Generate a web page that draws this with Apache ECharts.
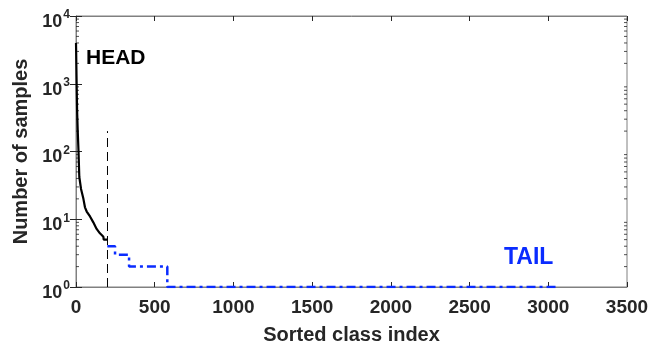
<!DOCTYPE html>
<html><head><meta charset="utf-8">
<script src="https://cdn.jsdelivr.net/npm/echarts@6/dist/echarts.min.js"></script>
<style>html,body{margin:0;padding:0;background:#fff}#c{width:661px;height:350px}</style>
</head><body><div id="c"></div>
<script>
// Head (sorted class index, number of samples)
const headX = [0, 1, 2, 4, 7, 11, 16, 21, 32, 47, 57, 68, 89, 110, 131, 152, 174, 176, 199];
const headY = [4000, 3000, 2000, 1000, 400, 200, 100, 42, 28, 20, 15, 13, 11, 9, 7.2, 6.2, 5.5, 5, 5];
// Tail (step curve)
const tailX = [199, 248, 248, 337, 337, 580, 580, 3050];
const tailY = [4, 4, 3, 3, 2, 2, 1, 1];
// Head/tail split marker
const splitX = [200, 200];
const splitY = [1, 200];
// Axis ticks
const xTicks = [0, 500, 1000, 1500, 2000, 2500, 3000, 3500];
const yDecades = [1, 10, 100, 1000, 10000];
const yMinor = [];
for (let d = 1; d < 10000; d *= 10) for (let k = 2; k <= 9; k++) yMinor.push(d * k);

const FONT = 'Liberation Sans';
const chart = echarts.init(document.getElementById('c'), null, {renderer: 'canvas'});
const supLabel = v => '{b|10}{s|' + Math.round(Math.log10(v)) + '}';
const yLabelRich = {
  b: {fontSize: 18, fontWeight: 'bold', color: '#262626', fontFamily: FONT, padding: [12, 0, 0, 0]},
  s: {fontSize: 12, fontWeight: 'bold', color: '#262626', fontFamily: FONT, padding: [0, 0, 2, 1]}
};
chart.setOption({
  animation: false,
  grid: {left: 76, right: 34, top: 16, bottom: 61, show: true, borderColor: '#808080', borderWidth: 1},
  xAxis: [{
    type: 'value', min: 0, max: 3500, interval: 500,
    axisLine: {show: true, lineStyle: {color: '#808080'}},
    axisTick: {show: true, inside: true, length: 5, lineStyle: {color: '#262626'}},
    axisLabel: {fontSize: 19, fontWeight: 'bold', color: '#262626', fontFamily: FONT, margin: 11,
                formatter: v => String(v)},
    splitLine: {show: false},
    name: 'Sorted class index', nameLocation: 'middle', nameGap: 38,
    nameTextStyle: {fontSize: 20, fontWeight: 'bold', color: '#262626', fontFamily: FONT}
  }, {
    type: 'value', position: 'top', min: 0, max: 3500, interval: 500,
    axisLine: {show: true, lineStyle: {color: '#808080'}},
    axisTick: {show: true, inside: true, length: 5, lineStyle: {color: '#262626'}},
    axisLabel: {show: false}, splitLine: {show: false}
  }],
  yAxis: [{
    type: 'log', logBase: 10, min: 1, max: 10000,
    axisLine: {show: true, lineStyle: {color: '#808080'}},
    axisTick: {show: true, inside: true, length: 6, lineStyle: {color: '#262626'}},
    axisLabel: {formatter: supLabel, rich: yLabelRich, margin: 6},
    splitLine: {show: false},
    name: 'Number of samples', nameLocation: 'middle', nameGap: 40,
    nameTextStyle: {fontSize: 20, fontWeight: 'bold', color: '#262626', fontFamily: FONT}
  }, {
    type: 'log', logBase: 10, min: 1, max: 10000, position: 'right',
    axisLine: {show: true, lineStyle: {color: '#808080'}},
    axisTick: {show: true, inside: true, length: 6, lineStyle: {color: '#262626'}},
    axisLabel: {show: false}, splitLine: {show: false}
  }],
  series: [
    {type: 'line', name: 'head', data: headX.map((x, i) => [x, headY[i]]), showSymbol: false,
     lineStyle: {color: '#000', width: 2.2}, z: 3},
    {type: 'line', name: 'tail', data: tailX.map((x, i) => [x, tailY[i]]), showSymbol: false,
     lineStyle: {color: '#0a2cff', width: 2.5, type: [9, 4, 3, 4]}, z: 3},
    {type: 'line', name: 'split', data: splitX.map((x, i) => [x, splitY[i]]), showSymbol: false,
     lineStyle: {color: '#000', width: 1, type: [9, 5]}, z: 2},
    {type: 'scatter', name: 'minorL', data: yMinor.map(v => [0, v]), symbol: 'rect', symbolSize: [3, 1],
     symbolOffset: [1.5, 0], itemStyle: {color: '#262626'}, clip: false, silent: true},
    {type: 'scatter', name: 'minorR', data: yMinor.map(v => [3500, v]), symbol: 'rect', symbolSize: [3, 1],
     symbolOffset: [-1.5, 0], itemStyle: {color: '#262626'}, clip: false, silent: true}
  ],
  graphic: [
    {type: 'text', left: 86, top: 48, style: {text: 'HEAD', font: 'bold 21px "Liberation Sans"', fill: '#000'}},
    {type: 'text', left: 504, top: 246, style: {text: 'TAIL', font: 'bold 23px "Liberation Sans"', fill: '#0a2cff'}}
  ]
});
</script></body></html>
